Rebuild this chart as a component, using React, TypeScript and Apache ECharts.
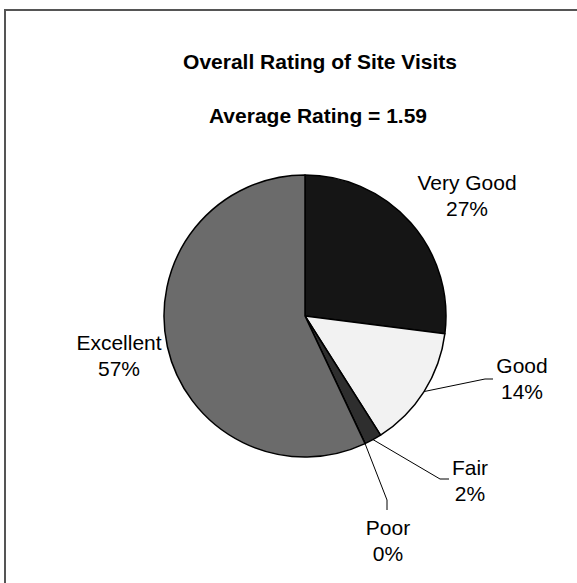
import React, { useEffect, useRef } from "react";
import * as echarts from "echarts";

const categories = ["Very Good", "Good", "Fair", "Poor", "Excellent"];
const percentages = [27, 14, 2, 0, 57];
const sliceColors = ["#151515", "#f2f2f2", "#2e2e2e", "#444444", "#6b6b6b"];
const titleText = "Overall Rating of Site Visits";
const subtitleText = "Average Rating = 1.59";

// label placement (layout only)
const labelPos: Record<string, { x: number; y: number; bend?: [number, number]; end?: [number, number] }> = {
  "Very Good": { x: 467, y: 195 },
  Good: { x: 522, y: 378, bend: [485, 379], end: [493, 379] },
  Fair: { x: 470, y: 480, bend: [440, 479], end: [449, 479] },
  Poor: { x: 388, y: 540, bend: [387, 500], end: [387, 510] },
  Excellent: { x: 119, y: 355 },
};

const FONT = '"Liberation Sans", Arial, sans-serif';

export default function App() {
  const ref = useRef<HTMLDivElement>(null);
  useEffect(() => {
    if (!ref.current) return;
    const chart = echarts.init(ref.current, null, { renderer: "svg" });
    const data = categories.map((name, i) => ({
      name,
      value: percentages[i],
      itemStyle: { color: sliceColors[i] },
      labelLine: { show: !!labelPos[name].bend },
    }));
    chart.setOption({
      animation: false,
      backgroundColor: "#ffffff",
      graphic: [
        {
          type: "rect",
          silent: true,
          z: -10,
          shape: { x: 5, y: 10, width: 620, height: 620 },
          style: { fill: "none", stroke: "#555555", lineWidth: 2 },
        },
        {
          type: "text",
          x: 320,
          y: 61,
          style: {
            text: titleText,
            textAlign: "center",
            textVerticalAlign: "middle",
            font: `bold 21px ${FONT}`,
            fill: "#000",
          },
        },
        {
          type: "text",
          x: 318,
          y: 115,
          style: {
            text: subtitleText,
            textAlign: "center",
            textVerticalAlign: "middle",
            font: `bold 21px ${FONT}`,
            fill: "#000",
          },
        },
      ],
      series: [
        {
          type: "pie",
          center: [305, 316],
          radius: 141,
          startAngle: 90,
          clockwise: true,
          avoidLabelOverlap: false,
          minShowLabelAngle: 0,
          stillShowZeroSum: true,
          itemStyle: { borderColor: "#000", borderWidth: 1.5 },
          emphasis: { disabled: true },
          label: {
            show: true,
            position: "outside",
            color: "#000",
            fontFamily: FONT,
            fontSize: 21,
            lineHeight: 26,
            align: "center",
            formatter: (p: any) => `${p.name}\n${Math.round(p.percent)}%`,
          },
          labelLine: {
            show: true,
            lineStyle: { color: "#000", width: 1 },
          },
          labelLayout: (params: any) => {
            const name = categories[params.dataIndex];
            const pos = labelPos[name];
            const out: any = { x: pos.x, y: pos.y, align: "center", verticalAlign: "middle" };
            if (pos.bend && params.labelLinePoints) {
              const start = params.labelLinePoints[0];
              out.labelLinePoints = [start, pos.bend, pos.end];
            }
            return out;
          },
          data,
        },
      ],
    });
    return () => chart.dispose();
  }, []);
  return (
    <div
      ref={ref}
      style={{ position: "absolute", left: 0, top: 0, width: 577, height: 583 }}
    />
  );
}
